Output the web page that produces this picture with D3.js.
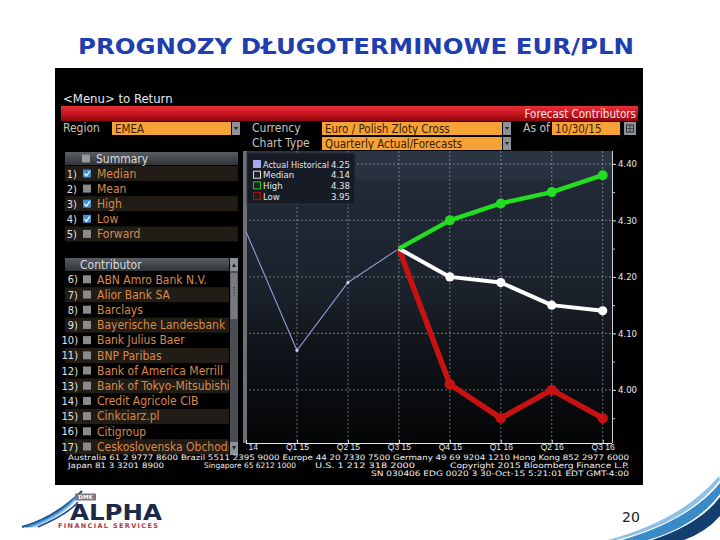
<!DOCTYPE html>
<html><head><meta charset="utf-8">
<script src="https://cdn.jsdelivr.net/npm/d3@7"></script>
<style>
body{margin:0;background:#fff}
svg{display:block}
.bb{font-family:"DejaVu Sans Condensed","DejaVu Sans","Liberation Sans Narrow",sans-serif;font-stretch:condensed}
</style>
</head><body>
<svg id="c" width="720" height="540"></svg>
<script>
// ---------- data ----------
const titleText = "PROGNOZY DŁUGOTERMINOWE EUR/PLN";
const quarters = ["Q4 14","Q1 15","Q2 15","Q3 15","Q4 15","Q1 16","Q2 16","Q3 16"];
const histQuarters = ["Q4 14","Q1 15","Q2 15","Q3 15"];
const histValues = [4.28, 4.07, 4.19, 4.25];
const fcQuarters = ["Q3 15","Q4 15","Q1 16","Q2 16","Q3 16"];
const medianValues = [4.25, 4.20, 4.19, 4.15, 4.14];
const highValues = [4.25, 4.30, 4.33, 4.35, 4.38];
const lowValues = [4.25, 4.01, 3.95, 4.00, 3.95];
const yTicks = [4.00, 4.10, 4.20, 4.30, 4.40];
const yMinorTicks = [3.95, 4.05, 4.15, 4.25, 4.35];
const legendLabels = ["Actual Historical","Median","High","Low"];
const legendValues = ["4.25","4.14","4.38","3.95"];
const summaryItems = ["Median","Mean","High","Low","Forward"];
const summaryChecked = [true,false,true,true,false];
const contributors = ["ABN Amro Bank N.V.","Alior Bank SA","Barclays","Bayerische Landesbank","Bank Julius Baer","BNP Paribas","Bank of America Merrill","Bank of Tokyo-Mitsubishi","Credit Agricole CIB","Cinkciarz.pl","Citigroup","Ceskoslovenska Obchodni"];
const footer1 = "Australia 61 2 9777 8600 Brazil 5511 2395 9000 Europe 44 20 7330 7500 Germany 49 69 9204 1210 Hong Kong 852 2977 6000";
const footer2 = ["Japan 81 3 3201 8900","Singapore 65 6212 1000","U.S. 1 212 318 2000","Copyright 2015 Bloomberg Finance L.P."];
const footer3 = "SN 030406 EDG 0020 3 30-Oct-15 5:21:01 EDT GMT-4:00";

// ---------- setup ----------
const svg = d3.select("#c");
const defs = svg.append("defs");
svg.append("rect").attr("width",720).attr("height",540).attr("fill","#fff");

// title
svg.append("text").attr("x",356).attr("y",54).attr("text-anchor","middle")
  .attr("font-family","DejaVu Sans, Verdana, sans-serif").attr("font-weight","bold")
  .attr("font-size",21).attr("fill","#1f3fae").attr("textLength",556).attr("lengthAdjust","spacingAndGlyphs")
  .text(titleText);

// terminal box
svg.append("rect").attr("x",55).attr("y",68).attr("width",588).attr("height",417).attr("fill","#000");

const g = svg.append("g").attr("class","bb");

g.append("text").attr("x",63).attr("y",103).attr("font-size",13).attr("fill","#e8e8e8").text("<Menu> to Return");

// red bar
const rg = defs.append("linearGradient").attr("id","red").attr("x1",0).attr("y1",0).attr("x2",0).attr("y2",1);
rg.append("stop").attr("offset",0).attr("stop-color","#e8303a");
rg.append("stop").attr("offset",0.5).attr("stop-color","#c8141e");
rg.append("stop").attr("offset",1).attr("stop-color","#8c0810");
g.append("rect").attr("x",61).attr("y",106).attr("width",577).attr("height",15).attr("fill","url(#red)");
g.append("text").attr("x",636).attr("y",118).attr("text-anchor","end").attr("font-size",11.5).attr("fill","#f4e8e8").text("Forecast Contributors");

// fields
function label(x,y,t){ g.append("text").attr("x",x).attr("y",y).attr("font-size",12).attr("fill","#c9c3ba").text(t); }
function field(x,y,w,t){
  g.append("rect").attr("x",x).attr("y",y).attr("width",w).attr("height",13).attr("fill","#f6a236");
  g.append("text").attr("x",x+3).attr("y",y+11).attr("font-size",11.5).attr("fill","#3a2000").text(t);
}
function drop(x,y){
  g.append("rect").attr("x",x).attr("y",y).attr("width",8).attr("height",13).attr("fill","#8e9196");
  g.append("path").attr("d",`M${x+2},${y+5}L${x+6},${y+5}L${x+4},${y+8}Z`).attr("fill","#222");
}
label(63,132,"Region"); field(112,122,119,"EMEA"); drop(232,122);
label(252,132,"Currency"); field(322,122,180,"Euro / Polish Zloty Cross"); drop(503,122);
label(523,132,"As of"); field(552,122,68,"10/30/15");
g.append("rect").attr("x",624).attr("y",122).attr("width",12).attr("height",13).attr("fill","#8e9196");
g.append("rect").attr("x",626.5).attr("y",125).attr("width",7).attr("height",7).attr("fill","none").attr("stroke","#333").attr("stroke-width",1);
g.append("path").attr("d","M626.5,128.5H633.5M630,125V132").attr("stroke","#333").attr("stroke-width",0.8);
label(252,147,"Chart Type"); field(322,137,180,"Quarterly Actual/Forecasts"); drop(503,137);

// ---------- left panel ----------
const hg = defs.append("linearGradient").attr("id","hdr").attr("x1",0).attr("y1",0).attr("x2",0).attr("y2",1);
hg.append("stop").attr("offset",0).attr("stop-color","#5a5d63");
hg.append("stop").attr("offset",1).attr("stop-color","#303338");
function checkbox(x,cy,checked,hdr){
  g.append("rect").attr("x",x).attr("y",cy-4).attr("width",8).attr("height",8)
   .attr("fill",checked?"#3d8fd6":(hdr?"#9a9a9a":"#8a8a8a"));
  if(checked) g.append("path").attr("d",`M${x+1.5},${cy}L${x+3.5},${cy+2.5}L${x+6.8},${cy-2.5}`)
     .attr("fill","none").attr("stroke","#fff").attr("stroke-width",1.3);
}
// summary
g.append("rect").attr("x",65).attr("y",152).attr("width",173).attr("height",13).attr("fill","url(#hdr)");
checkbox(82,158.5,false,true);
g.append("text").attr("x",96).attr("y",163).attr("font-size",12).attr("fill","#dcdcdc").text("Summary");
const sumRows = g.append("g");
summaryItems.forEach((s,i)=>{
  const y0 = 166 + i*15.1, cy = y0+7.5;
  sumRows.append("rect").attr("x",65).attr("y",y0).attr("width",173).attr("height",15.1).attr("fill", i%2===0?"#211c15":"#000");
  sumRows.append("text").attr("x",77).attr("y",cy+4).attr("text-anchor","end").attr("font-size",11).attr("fill","#e0e0e0").text((i+1)+")");
  checkbox(83,cy,summaryChecked[i]);
  sumRows.append("text").attr("x",97).attr("y",cy+4.5).attr("font-size",12).attr("fill","#d98a48").text(s);
});
// contributors
defs.append("clipPath").attr("id","clist").append("rect").attr("x",60).attr("y",250).attr("width",169).attr("height",205);
const cl = g.append("g").attr("clip-path","url(#clist)");
cl.append("rect").attr("x",65).attr("y",258).attr("width",164).attr("height",13).attr("fill","url(#hdr)");
cl.append("text").attr("x",80).attr("y",269).attr("font-size",12).attr("fill","#dcdcdc").text("Contributor");
contributors.forEach((s,i)=>{
  const y0 = 272 + i*15.2, cy = y0+7.3;
  cl.append("rect").attr("x",65).attr("y",y0).attr("width",164).attr("height",15.2).attr("fill", i%2===1?"#211c15":"#000");
  cl.append("text").attr("x",78).attr("y",cy+4).attr("text-anchor","end").attr("font-size",11).attr("fill","#e0e0e0").text((i+6)+")");
  checkbox(83,cy,false);
  cl.append("text").attr("x",97).attr("y",cy+4.3).attr("font-size",12).attr("fill","#d98a48").text(s);
});
// scrollbar
g.append("rect").attr("x",230).attr("y",258).attr("width",8).attr("height",197).attr("fill","#4a4d52");
g.append("rect").attr("x",230).attr("y",258).attr("width",8).attr("height",13).attr("fill","#8e9196");
g.append("path").attr("d","M232,267L236,267L234,263Z").attr("fill","#222");
g.append("rect").attr("x",230.5).attr("y",273).attr("width",7).attr("height",46).attr("fill","#777a80");
g.append("path").attr("d","M234,287V297").attr("stroke","#222").attr("stroke-width",1).attr("stroke-dasharray","1,1.5");
g.append("rect").attr("x",230).attr("y",442).attr("width",8).attr("height",13).attr("fill","#8e9196");
g.append("path").attr("d","M232,446L236,446L234,450Z").attr("fill","#222");

// ---------- chart ----------
const x = d3.scalePoint().domain(quarters).range([246, 602.7]);
const y = d3.scaleLinear().domain([3.906, 4.421]).range([443, 152]);
const pL = 245, pR = 612, pT = 151, pB = 443;

const bg = defs.append("linearGradient").attr("id","pbg").attr("x1",0).attr("y1",0).attr("x2",0).attr("y2",1);
[[0,"#2b3543"],[0.1,"#27313e"],[0.1,"#212a36"],[0.22,"#1e2733"],[0.5,"#1a212b"],[0.6,"#141920"],[0.78,"#0c0f13"],[1,"#040506"]]
  .forEach(s=>bg.append("stop").attr("offset",s[0]).attr("stop-color",s[1]));
svg.append("rect").attr("x",pL).attr("y",pT).attr("width",pR-pL).attr("height",pB-pT).attr("fill","url(#pbg)");

// grid
const grid = svg.append("g").attr("stroke","#b8c0c8").attr("stroke-opacity",0.55).attr("stroke-dasharray","2,2").attr("stroke-width",1);
grid.selectAll("line.v").data(quarters.slice(1)).join("line")
  .attr("x1",d=>x(d)).attr("x2",d=>x(d)).attr("y1",pT).attr("y2",pB);
grid.selectAll("line.h").data(yTicks).join("line")
  .attr("x1",pL).attr("x2",pR).attr("y1",d=>y(d)).attr("y2",d=>y(d));

// left bar
svg.append("rect").attr("x",243).attr("y",pT).attr("width",4).attr("height",pB-pT).attr("fill","#6c6f74");

defs.append("clipPath").attr("id","plot").append("rect").attr("x",pL).attr("y",pT).attr("width",pR-pL+8).attr("height",pB-pT);
const pg = svg.append("g").attr("clip-path","url(#plot)");

// historical
const line = d3.line().x(d=>x(d[0])).y(d=>y(d[1]));
const hist = histQuarters.map((q,i)=>[q,histValues[i]]);
pg.append("path").attr("d",line(hist)).attr("fill","none").attr("stroke","#8e9cd4").attr("stroke-width",1.1);
pg.selectAll("circle.h").data(hist.slice(1,3)).join("circle").attr("cx",d=>x(d[0])).attr("cy",d=>y(d[1])).attr("r",1.6).attr("fill","#c8d0f0");

function series(vals,color,w,r){
  const data = fcQuarters.map((q,i)=>[q,vals[i]]);
  pg.append("path").attr("d",line(data)).attr("fill","none").attr("stroke",color).attr("stroke-width",w).attr("stroke-linejoin","round");
  pg.selectAll(null).data(data.slice(1)).join("circle").attr("cx",d=>x(d[0])).attr("cy",d=>y(d[1])).attr("r",r).attr("fill",color);
}
series(lowValues,"#c81212",5.5,5.2);
series(medianValues,"#ffffff",4,4.6);
series(highValues,"#22dd22",4.5,5);

// legend
const lg = svg.append("g").attr("class","bb");
lg.append("rect").attr("x",247).attr("y",153).attr("width",108).attr("height",51).attr("fill","#161b25").attr("stroke","#2a303a");
const lColors = ["#a8a8f0","#e0e0e0","#22cc22","#b01010"];
legendLabels.forEach((l,i)=>{
  const cy = 164 + i*10.7;
  if(i===0) lg.append("rect").attr("x",253).attr("y",cy-4).attr("width",8).attr("height",8).attr("fill",lColors[i]);
  else lg.append("rect").attr("x",253.5).attr("y",cy-3.5).attr("width",7).attr("height",7).attr("fill","#202020").attr("stroke",lColors[i]).attr("stroke-width",1);
  lg.append("text").attr("x",263).attr("y",cy+3.5).attr("font-size",9.5).attr("fill","#e4e4f0")
    .attr("textLength", i===0?66:null).attr("lengthAdjust","spacingAndGlyphs").text(l);
  lg.append("text").attr("x",350).attr("y",cy+3.5).attr("text-anchor","end").attr("font-size",9.5).attr("fill","#e4e4f0").text(legendValues[i]);
});

// right axis
const ya = svg.append("g").attr("class","bb").attr("transform",`translate(${pR},0)`)
  .call(d3.axisRight(y).tickValues(yTicks).tickFormat(d3.format(".2f")).tickSize(4).tickPadding(2));
ya.select(".domain").attr("stroke","#d0d0d0").attr("d",`M0.5,${pT}V${pB}`);
ya.selectAll(".tick line").attr("stroke","#e0e0e0");
ya.selectAll(".tick text").attr("fill","#e8e8e8").attr("font-size",9.5).attr("font-family",null);
const ym = svg.append("g").attr("transform",`translate(${pR},0)`)
  .call(d3.axisRight(y).tickValues(yMinorTicks).tickFormat("").tickSize(3));
ym.select(".domain").remove();
ym.selectAll(".tick line").attr("stroke","#c0c0c0");

// bottom axis (clip in the axis group's local coordinates)
defs.append("clipPath").attr("id","xax").append("rect").attr("x",246).attr("y",-5).attr("width",400).attr("height",13.5);
const xa = svg.append("g").attr("class","bb").attr("transform",`translate(0,${pB})`);
const xin = xa.append("g").attr("clip-path","url(#xax)")
  .call(d3.axisBottom(x).tickSize(-3).tickPadding(0.5));
xin.select(".domain").attr("stroke","#e8e8e8").attr("d",`M${pL},0.5H${pR}`);
xin.selectAll(".tick line").attr("stroke","#e0e0e0");
xin.selectAll(".tick text").attr("fill","#e8e8e8").attr("font-size",8.5).attr("font-family",null);

// footer text
const ft = g.append("g").attr("font-size",7.5).attr("fill","#f0f0f0");
ft.append("text").attr("x",68).attr("y",459.5).attr("textLength",561).attr("lengthAdjust","spacingAndGlyphs").text(footer1);
const f2x = [68,204,315,450], f2w = [96,92,100,179];
footer2.forEach((t,i)=>ft.append("text").attr("x",f2x[i]).attr("y",467.5).attr("textLength",f2w[i]).attr("lengthAdjust","spacingAndGlyphs").text(t));
ft.append("text").attr("x",371).attr("y",475.5).attr("textLength",258).attr("lengthAdjust","spacingAndGlyphs").text(footer3);

// ---------- logo ----------
const logo = svg.append("g");
const sw = [["#1b4f8c",2.2,"M22,527 Q55,518 82,491"],["#2f78b8",2,"M26,527 Q60,516 79,494"],["#5d9fd4",1.8,"M30,527 Q62,515 77,497"],["#9cc4e6",1.5,"M34,527 Q64,514 75,500"],["#1b4f8c",1.6,"M38,527 Q68,514 78,502"]];
sw.forEach(s=>logo.append("path").attr("d",s[2]).attr("fill","none").attr("stroke",s[0]).attr("stroke-width",s[1]));
logo.append("rect").attr("x",75).attr("y",493.5).attr("width",21).attr("height",7).attr("fill","#7a7a7a");
logo.append("text").attr("x",85.5).attr("y",499.2).attr("text-anchor","middle").attr("font-family","DejaVu Sans, sans-serif").attr("font-weight","bold").attr("font-size",5.5).attr("fill","#fff").text("DMK");
logo.append("text").attr("x",70).attr("y",519.5).attr("font-family","DejaVu Sans, sans-serif").attr("font-weight","bold").attr("font-size",22).attr("fill","#1b2a4b").attr("textLength",92).attr("lengthAdjust","spacingAndGlyphs").text("ALPHA");
logo.append("text").attr("x",58).attr("y",528).attr("font-family","DejaVu Sans, sans-serif").attr("font-weight","bold").attr("font-size",6.5).attr("fill","#b03a4a").attr("textLength",100).attr("lengthAdjust","spacing").text("FINANCIAL SERVICES");

// page number
svg.append("text").attr("x",631).attr("y",522).attr("text-anchor","middle").attr("font-family","DejaVu Sans, sans-serif").attr("font-size",14).attr("fill","#222").text("20");

// right swoosh
svg.append("path").attr("d","M608,540 Q682,520 719,476 L720,480 Q688,522 616,540Z").attr("fill","#8fc0e6");
svg.append("path").attr("d","M622,540 Q690,520 720,483 L720,494 Q696,526 648,540Z").attr("fill","#3a8ac8");
svg.append("path").attr("d","M652,540 Q700,524 720,497 L720,516 Q706,532 684,540Z").attr("fill","#123f70");
</script>
</body></html>
